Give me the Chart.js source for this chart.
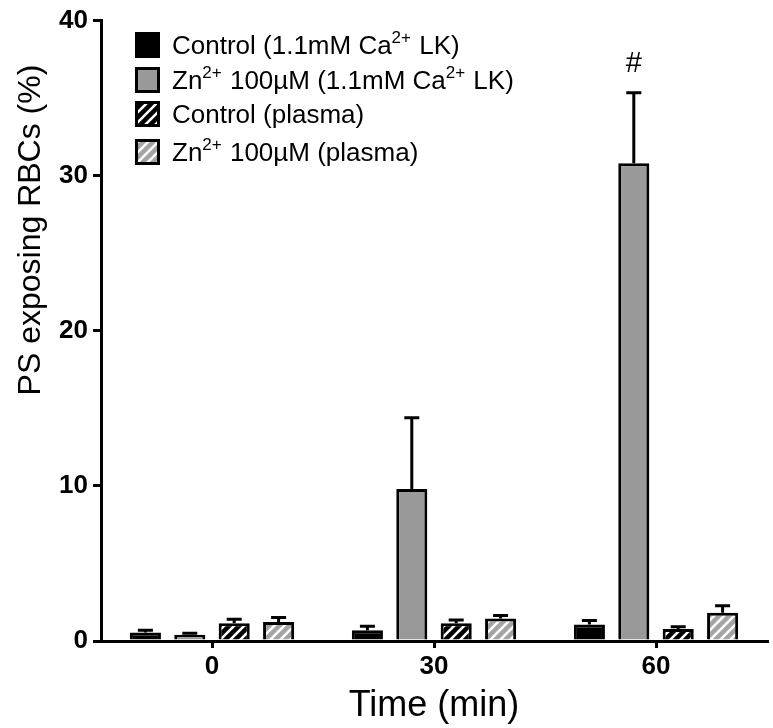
<!DOCTYPE html>
<html lang="en">
<head>
<meta charset="UTF-8">
<title>PS exposing RBCs</title>
<style>
    html, body {
        margin: 0;
        padding: 0;
        background: #fff;
    }
    #wrap {
        width: 773px;
        height: 728px;
    }
</style>
</head>
<body>
<div id="wrap">
    <canvas id="chart" width="773" height="728"></canvas>
</div>

<script src="https://cdn.jsdelivr.net/npm/chart.js@4/dist/chart.umd.min.js"></script>
<script>
// time points (min)
var categories = ['0', '30', '60'];

// legend texts, ^{..} marks a superscript
var seriesLabels = [
    'Control (1.1mM Ca^{2+} LK)',
    'Zn^{2+} 100\u00b5M (1.1mM Ca^{2+} LK)',
    'Control (plasma)',
    'Zn^{2+} 100\u00b5M (plasma)'
];

// means (%)
var controlLK = [0.55, 0.7, 1.07];
var zincLK = [0.4, 9.8, 30.8];
var controlPlasma = [1.15, 1.15, 0.77];
var zincPlasma = [1.22, 1.45, 1.82];

// error bars (up only)
var controlLKErr = [0.15, 0.25, 0.25];
var zincLKErr = [0.1, 4.6, 4.55];
var controlPlasmaErr = [0.25, 0.2, 0.15];
var zincPlasmaErr = [0.3, 0.2, 0.45];

// significance marks on the Zn (LK) series
var zincLKMarks = ['', '', '#'];

var yTicks = [0, 10, 20, 30, 40];

var FONT = '"Liberation Sans", Arial, Helvetica, sans-serif';

function hatch(bg, fg) {
    var s = 10;
    var c = document.createElement('canvas');
    c.width = s;
    c.height = s;
    var g = c.getContext('2d');
    g.fillStyle = bg;
    g.fillRect(0, 0, s, s);
    g.strokeStyle = fg;
    g.lineWidth = 2.6;
    g.beginPath();
    g.moveTo(-2, 2); g.lineTo(2, -2);
    g.moveTo(0, s); g.lineTo(s, 0);
    g.moveTo(s - 2, s + 2); g.lineTo(s + 2, s - 2);
    g.stroke();
    return g.createPattern(c, 'repeat');
}

var fills = [
    '#000000',
    '#999999',
    hatch('#000000', '#ffffff'),
    hatch('#a4a4a4', '#ffffff')
];

// draws "text^{sup}" pieces, returns end x
function drawRich(ctx, str, x, y, size) {
    var parts = str.split(/(\^\{[^}]*\})/);
    parts.forEach(function(p) {
        if (!p) return;
        if (p.charAt(0) === '^') {
            var t = p.slice(2, -1);
            ctx.font = Math.round(size * 0.64) + 'px ' + FONT;
            ctx.fillText(t, x, y - size * 0.42);
            x += ctx.measureText(t).width + 1;
        } else {
            ctx.font = size + 'px ' + FONT;
            ctx.fillText(p, x, y);
            x += ctx.measureText(p).width;
        }
    });
    return x;
}

var errorBars = {
    id: 'errorBars',
    afterDatasetsDraw: function(chart) {
        var ctx = chart.ctx;
        var y = chart.scales.y;
        ctx.save();
        ctx.strokeStyle = '#000';
        ctx.lineWidth = 3;
        chart.data.datasets.forEach(function(ds, i) {
            var meta = chart.getDatasetMeta(i);
            meta.data.forEach(function(bar, j) {
                var top = y.getPixelForValue(ds.data[j] + ds.errors[j]);
                ctx.beginPath();
                ctx.moveTo(bar.x, bar.y);
                ctx.lineTo(bar.x, top);
                ctx.moveTo(bar.x - 7.5, top);
                ctx.lineTo(bar.x + 7.5, top);
                ctx.stroke();

                if (ds.marks && ds.marks[j]) {
                    ctx.fillStyle = '#000';
                    ctx.font = '29px ' + FONT;
                    ctx.textAlign = 'center';
                    ctx.textBaseline = 'middle';
                    ctx.fillText(ds.marks[j], bar.x, top - 29);
                }
            });
        });
        ctx.restore();
    }
};

var extras = {
    id: 'extras',
    afterDraw: function(chart) {
        var ctx = chart.ctx;
        ctx.save();

        // y title, sits higher than the axis centre
        ctx.fillStyle = '#000';
        ctx.translate(31, 230);
        ctx.rotate(-Math.PI / 2);
        ctx.textAlign = 'center';
        ctx.textBaseline = 'middle';
        ctx.font = '32px ' + FONT;
        ctx.fillText('PS exposing RBCs (%)', 0, 0);
        ctx.setTransform(1, 0, 0, 1, 0, 0);

        // legend
        var rows = [45, 80, 114, 152];
        ctx.textAlign = 'left';
        ctx.textBaseline = 'alphabetic';
        chart.data.datasets.forEach(function(ds, i) {
            var cy = rows[i];
            ctx.fillStyle = ds.backgroundColor;
            ctx.fillRect(135, cy - 13, 25, 26);
            ctx.strokeStyle = '#000';
            ctx.lineWidth = 3;
            ctx.strokeRect(136.5, cy - 11.5, 22, 23);
            ctx.fillStyle = '#000';
            drawRich(ctx, ds.label, 172, cy + 9, 26);
        });

        ctx.restore();
    }
};

var datasets = [
    { label: seriesLabels[0], data: controlLK, errors: controlLKErr },
    { label: seriesLabels[1], data: zincLK, errors: zincLKErr, marks: zincLKMarks },
    { label: seriesLabels[2], data: controlPlasma, errors: controlPlasmaErr },
    { label: seriesLabels[3], data: zincPlasma, errors: zincPlasmaErr }
].map(function(d, i) {
    d.backgroundColor = fills[i];
    d.borderColor = '#000';
    d.borderWidth = 3;
    d.categoryPercentage = 0.8;
    d.barPercentage = 0.7;
    return d;
});

var chart = new Chart(document.getElementById('chart').getContext('2d'), {
    type: 'bar',
    data: {
        labels: categories,
        datasets: datasets
    },
    options: {
        responsive: false,
        animation: false,
        layout: {
            padding: { top: 18, right: 6, left: 0, bottom: 0 }
        },
        plugins: {
            legend: { display: false },
            tooltip: { enabled: false }
        },
        scales: {
            x: {
                afterFit: function(scale) { scale.height = 87; },
                border: { color: '#000', width: 3 },
                grid: {
                    offset: false,
                    drawOnChartArea: false,
                    color: '#000',
                    lineWidth: 3,
                    tickLength: 7
                },
                ticks: {
                    color: '#000',
                    padding: 3,
                    font: { family: FONT, size: 26, weight: 'bold' }
                },
                title: {
                    display: true,
                    text: 'Time (min)',
                    color: '#000',
                    padding: { top: 0, bottom: 0 },
                    font: { family: FONT, size: 36 }
                }
            },
            y: {
                min: 0,
                max: 40,
                afterFit: function(scale) { scale.width = 101; },
                afterBuildTicks: function(scale) {
                    scale.ticks = yTicks.map(function(v) { return { value: v }; });
                },
                border: { color: '#000', width: 3 },
                grid: {
                    drawOnChartArea: false,
                    color: '#000',
                    lineWidth: 3,
                    tickLength: 8
                },
                ticks: {
                    color: '#000',
                    padding: 5,
                    font: { family: FONT, size: 26, weight: 'bold' }
                }
            }
        }
    },
    plugins: [errorBars, extras]
});
</script>
</body>
</html>
